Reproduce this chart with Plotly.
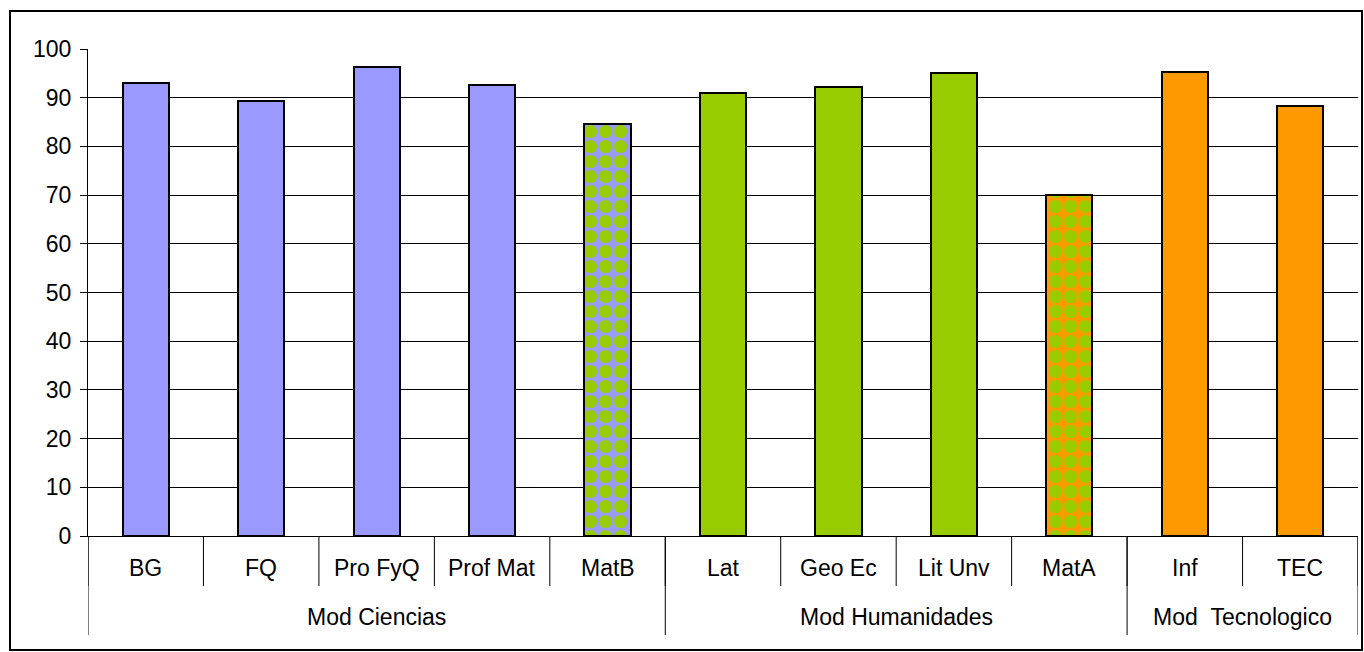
import plotly.graph_objects as go

# ---- data ----
categories = ["BG", "FQ", "Pro FyQ", "Prof Mat", "MatB", "Lat", "Geo Ec", "Lit Unv", "MatA", "Inf", "TEC"]
values = [93.1, 89.3, 96.4, 92.6, 84.7, 90.9, 92.3, 95.0, 70.1, 95.3, 88.2]
groups = ["Mod Ciencias", "Mod Humanidades", "Mod\u00a0\u00a0Tecnologico"]
group_sizes = [5, 4, 2]
y_ticks = [0, 10, 20, 30, 40, 50, 60, 70, 80, 90, 100]

BLUE = "#9999FF"
GREEN = "#99CC00"
ORANGE = "#FF9900"
base_colors = [BLUE, BLUE, BLUE, BLUE, BLUE, GREEN, GREEN, GREEN, ORANGE, ORANGE, ORANGE]
pattern_fg = [None, None, None, None, GREEN, None, None, None, GREEN, None, None]

# ---- layout geometry (pixels) ----
W, H = 1364, 652
L, R, T, B = 88, 6, 49, 116
PW, PH = W - L - R, H - T - B


def py(pix_y):
    """pixel y (from top) -> paper y"""
    return (H - B - pix_y) / PH


def px(pix_x):
    return (pix_x - L) / PW


FONT = "Liberation Sans, Arial, sans-serif"
FS = 23
n = len(categories)
xs = list(range(n))

fig = go.Figure()
for i in range(n):
    marker = dict(color=base_colors[i], line=dict(color="black", width=2))
    if pattern_fg[i]:
        marker["pattern"] = dict(shape=".", fgcolor=pattern_fg[i], bgcolor=base_colors[i],
                                 size=15, solidity=0.6, fillmode="replace")
    fig.add_trace(go.Bar(x=[xs[i]], y=[values[i]], width=0.4, marker=marker,
                         name=categories[i], hoverinfo="y"))

shapes = []
annotations = []
# category tick separators
for i in range(n + 1):
    shapes.append(dict(type="line", xref="x", yref="paper", x0=i - 0.5, x1=i - 0.5,
                       y0=0, y1=py(586), line=dict(color="black", width=1)))
# category labels
for i, c in enumerate(categories):
    annotations.append(dict(x=i, y=py(568), xref="x", yref="paper", text=c, showarrow=False,
                            font=dict(family=FONT, size=FS, color="black"),
                            xanchor="center", yanchor="middle"))
# group dividers and labels
start = 0
bounds = [0]
for g, s in zip(groups, group_sizes):
    center = start + (s - 1) / 2
    annotations.append(dict(x=center, y=py(617), xref="x", yref="paper", text=g, showarrow=False,
                            font=dict(family=FONT, size=FS, color="black"),
                            xanchor="center", yanchor="middle"))
    start += s
    bounds.append(start)
for b in bounds:
    shapes.append(dict(type="line", xref="x", yref="paper", x0=b - 0.5, x1=b - 0.5,
                       y0=0, y1=py(635), line=dict(color="black", width=1)))

# outer chart border
shapes.append(dict(type="rect", xref="paper", yref="paper",
                   x0=px(10), x1=px(1362), y0=py(650), y1=py(11),
                   line=dict(color="black", width=2), fillcolor="rgba(0,0,0,0)", layer="below"))

fig.update_layout(
    width=W, height=H,
    margin=dict(l=L, r=R, t=T, b=B, pad=0),
    paper_bgcolor="white", plot_bgcolor="white",
    showlegend=False,
    shapes=shapes, annotations=annotations,
    font=dict(family=FONT, size=FS, color="black"),
    bargap=0, barmode="overlay",
)
fig.update_xaxes(range=[-0.5, n - 0.5], showticklabels=False, showgrid=False, zeroline=False,
                 showline=True, linecolor="black", linewidth=1, ticks="", fixedrange=True)
fig.update_yaxes(range=[0, 100], tickvals=y_ticks, showgrid=True, gridcolor="black", gridwidth=1,
                 zeroline=False, showline=True, linecolor="black", linewidth=1,
                 ticks="outside", ticklen=7, tickcolor="black", ticklabelstandoff=4,
                 tickfont=dict(family=FONT, size=FS, color="black"), fixedrange=True)

fig.write_html("out.html", config={"displayModeBar": False},
               post_script="document.body.style.margin='0';document.body.style.overflow='hidden';")
